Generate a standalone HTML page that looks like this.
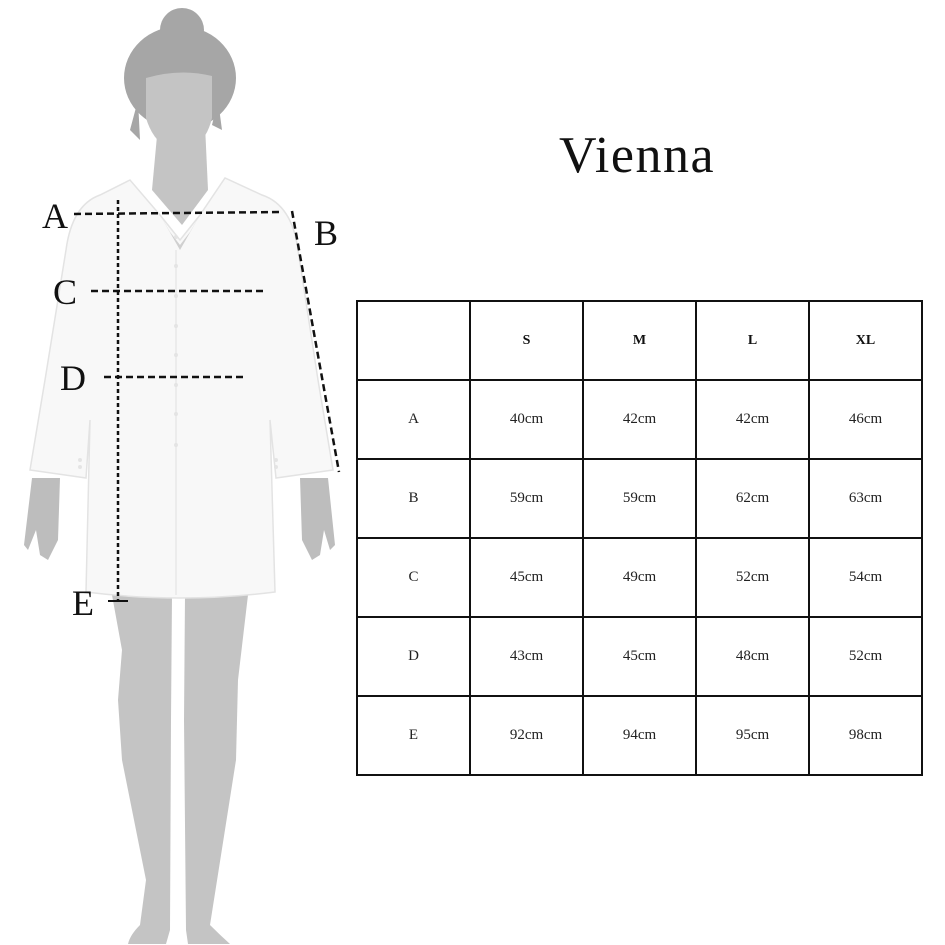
<!DOCTYPE html>
<html><head><meta charset="utf-8"><style>
html,body{margin:0;padding:0;background:#fff;}
body{width:945px;height:945px;position:relative;overflow:hidden;font-family:"Liberation Serif",serif;}
.t{position:absolute;left:559px;top:126px;font-size:52px;color:#111;letter-spacing:1.5px;}
table{position:absolute;left:356px;top:300px;border-collapse:collapse;}
td{border:2.5px solid #111;width:111px;height:77px;text-align:center;font-size:15px;color:#222;padding:0;}
th{border:2.5px solid #111;width:111px;height:77px;text-align:center;font-size:14px;font-weight:bold;color:#111;padding:0;}
</style></head><body>
<svg width="945" height="945" style="position:absolute;left:0;top:0">
<!-- legs -->
<path d="M112,595 L172,595 L171,720 L170,930 L166,944 L128,944 Q130,935 140,925 L146,880 L122,760 L118,700 L122,650 Z" fill="#c4c4c4"/>
<path d="M185,595 L248,595 L238,680 L236,760 L210,925 Q220,935 230,944 L188,944 L186,930 L184,720 Z" fill="#c4c4c4"/>
<!-- hands -->
<path d="M32,478 L60,478 L58,540 L48,560 L40,555 L36,530 L28,550 L24,545 Z" fill="#bdbdbd"/>
<path d="M300,478 L328,478 L335,545 L330,550 L324,530 L320,555 L312,560 L302,540 Z" fill="#bdbdbd"/>
<!-- neck -->
<path d="M158,125 L205,125 L208,190 L182,225 L152,190 Z" fill="#c4c4c4"/>
<!-- hair -->
<circle cx="182" cy="30" r="22" fill="#a6a6a6"/>
<ellipse cx="180" cy="78" rx="56" ry="52" fill="#a6a6a6"/>
<path d="M138,100 L140,140 L130,130 Z M218,100 L222,130 L212,125 Z" fill="#a6a6a6"/>
<!-- face -->
<path d="M146,78 Q180,68 212,76 L212,118 Q205,148 180,152 Q155,148 146,118 Z" fill="#c4c4c4"/>
<!-- coat -->
<path d="M130,180 L100,195 Q72,205 66,250 L45,380 L30,470 L86,478 L90,420 L86,592 Q180,604 275,592 L270,420 L276,478 L333,470 L318,380 L298,250 Q292,205 262,195 L225,178 L200,215 L180,240 L160,215 Z" fill="#f8f8f8" stroke="#e3e3e3" stroke-width="1.5"/>
<path d="M160,215 L180,250 L200,215 L190,232 L180,245 L170,232 Z" fill="#d0d0d0"/>
<path d="M176,250 L176,595" stroke="#ececec" stroke-width="2"/>
<g fill="#e4e4e4"><circle cx="176" cy="237" r="2"/><circle cx="176" cy="266" r="2"/><circle cx="176" cy="296" r="2"/><circle cx="176" cy="326" r="2"/><circle cx="176" cy="355" r="2"/><circle cx="176" cy="385" r="2"/><circle cx="176" cy="414" r="2"/><circle cx="176" cy="445" r="2"/>
<circle cx="80" cy="460" r="2"/><circle cx="80" cy="467" r="2"/><circle cx="276" cy="460" r="2"/><circle cx="276" cy="467" r="2"/></g>
<!-- measurement lines -->
<g stroke="#111" stroke-width="2.5" stroke-dasharray="7,4" fill="none">
<line x1="74" y1="214" x2="283" y2="212"/>
<line x1="292" y1="211" x2="339" y2="472"/>
<line x1="91" y1="291" x2="266" y2="291"/>
<line x1="104" y1="377" x2="247" y2="377"/>
</g>
<line x1="118" y1="200" x2="118" y2="600" stroke="#111" stroke-width="2.5" stroke-dasharray="4,3"/>
<line x1="108" y1="601" x2="128" y2="601" stroke="#111" stroke-width="2"/>
<g font-family="Liberation Serif, serif" font-size="36" fill="#111">
<text x="42" y="228">A</text><text x="314" y="245">B</text>
<text x="53" y="304">C</text><text x="60" y="390">D</text><text x="72" y="615">E</text>
</g>
</svg>
<div class="t">Vienna</div>
<table>
<tr><th></th><th>S</th><th>M</th><th>L</th><th>XL</th></tr>
<tr><td>A</td><td>40cm</td><td>42cm</td><td>42cm</td><td>46cm</td></tr>
<tr><td>B</td><td>59cm</td><td>59cm</td><td>62cm</td><td>63cm</td></tr>
<tr><td>C</td><td>45cm</td><td>49cm</td><td>52cm</td><td>54cm</td></tr>
<tr><td>D</td><td>43cm</td><td>45cm</td><td>48cm</td><td>52cm</td></tr>
<tr><td>E</td><td>92cm</td><td>94cm</td><td>95cm</td><td>98cm</td></tr>
</table>
</body></html>
